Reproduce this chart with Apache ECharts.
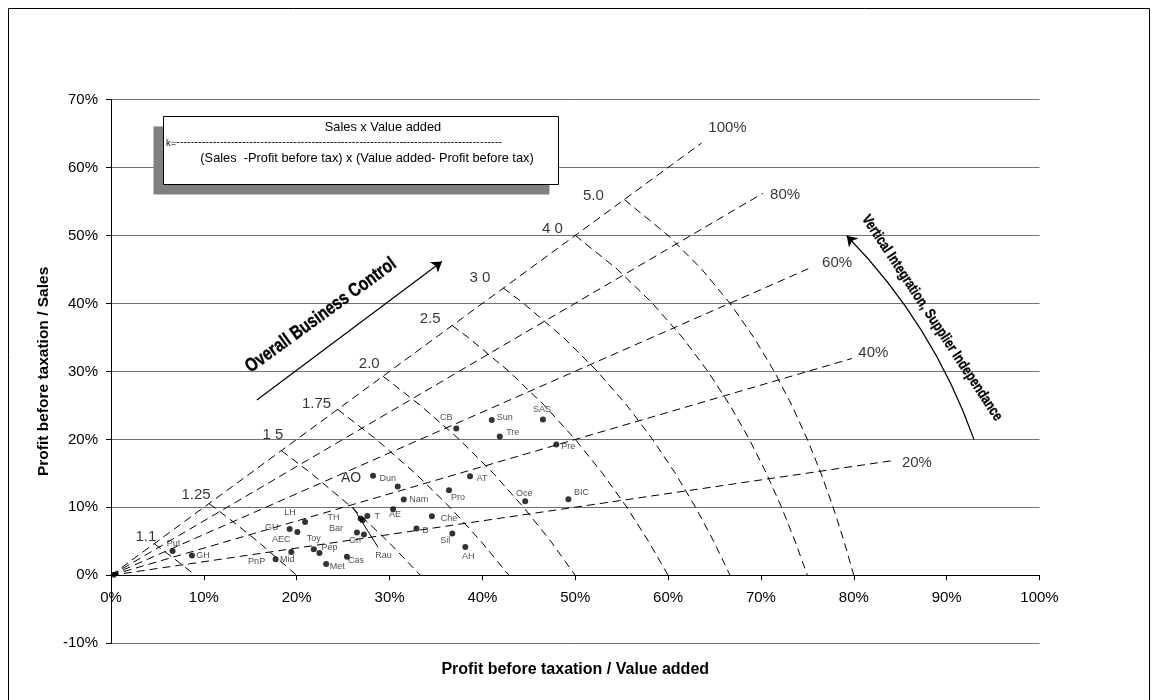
<!DOCTYPE html>
<html><head><meta charset="utf-8">
<script src="https://cdn.jsdelivr.net/npm/echarts/dist/echarts.min.js"></script>
<style>html,body{margin:0;padding:0;background:#fff}#c{width:1158px;height:700px}</style>
</head><body><div id="c"></div>
<script>
// ---- data (percent units) ----
const companies = ['Put','GH','PnP','Mid','GU','AEC','LH','Toy','Pep','Met','Cas','Bar','Gri','TH','Rau','T','AO','Dun','AE','Nam','B','Che','Sil','AH','Pro','AT','CB','Sun','Tre','SAS','Pre','Oce','BIC'];
const profitToValueAdded = [6.63,8.72,17.73,19.42,19.24,20.07,20.90,21.84,22.45,23.17,25.41,26.49,27.24,26.88,27.10,27.60,28.22,30.88,30.38,31.53,32.90,34.56,36.76,38.16,36.40,38.67,37.19,41.01,41.87,46.52,47.96,44.61,49.26];
const profitToSales = [3.58,2.90,2.36,3.44,6.83,6.39,7.86,3.83,3.29,1.67,2.75,6.29,5.99,8.35,8.10,8.74,14.64,13.07,9.73,11.15,6.88,8.69,6.14,4.17,12.53,14.59,21.61,22.84,20.43,22.94,19.26,10.90,11.20];
const originMarker = [[0.3, 0.1]];

const xTicks = [0,10,20,30,40,50,60,70,80,90,100];
const yTicks = [-10,0,10,20,30,40,50,60,70];

// Vertical integration rays (Value added / Sales)
const rayNames = ['100%','80%','60%','40%','20%'];
const rayEndX = [63.6,70.2,75.1,79.8,84.3];
const rayEndY = [63.6,56.2,45.1,31.9,16.9];
const rayLabelX = [66.4,72.6,78.2,82.1,86.8];
const rayLabelY = [65.9,55.9,46.0,32.7,16.6];

// k iso-curves
const kNames = ['1.1','1.25','1 5','1.75','2.0','2.5','3 0','4 0','5.0'];
const kLabelX = [3.75,9.16,17.44,22.13,27.81,34.38,39.73,47.54,51.95];
const kLabelY = [5.64,11.79,20.73,25.2,31.12,37.75,43.77,51.03,55.88];
const curveK1_1 = [[4.65,4.65],[6.76,2.5],[9.09,0]];
const curveK1_25 = [[10.56,10.56],[13.04,8],[15.79,5],[20,0]];
const curveK1_5 = [[18.35,18.35],[21.57,15],[25.93,10],[29.82,5],[33.33,0]];
const curveK1_75 = [[24.41,24.41],[28.57,20],[32.77,15],[36.51,10],[39.85,5],[42.86,0]];
const curveK2 = [[29.29,29.29],[33.33,25],[37.5,20],[41.18,15],[44.44,10],[47.37,5],[50,0]];
const curveK2_5 = [[36.75,36.75],[38.46,35],[42.86,30],[46.67,25],[50,20],[52.94,15],[55.56,10],[57.89,5],[60,0]];
const curveK3 = [[42.26,42.26],[44.44,40],[48.72,35],[52.38,30],[55.56,25],[58.33,20],[60.78,15],[62.96,10],[64.91,5],[66.67,0]];
const curveK4 = [[50,50],[54.55,45],[58.33,40],[61.54,35],[64.29,30],[66.67,25],[68.75,20],[70.59,15],[72.22,10],[73.68,5],[75,0]];
const curveK5 = [[55.28,55.28],[60,50],[63.64,45],[66.67,40],[69.23,35],[71.43,30],[73.33,25],[75,20],[76.47,15],[77.78,10],[78.95,5],[80,0]];
const kCurves = [curveK1_1,curveK1_25,curveK1_5,curveK1_75,curveK2,curveK2_5,curveK3,curveK4,curveK5];

// annotations
const rauLeader = [[26.05,10.02],[28.76,4.13]];
const controlArrow = [[15.71,25.79],[35.64,46.17]];
const integrationArrow = [[92.94,20.0],[79.24,49.96]];
const controlText = 'Overall Business Control';
const integrationText = 'Vertical Integration, Supplier Independance';

// ---- layout / style (not data) ----
const FF = "'Liberation Sans', Arial, sans-serif";
const labelOffset = {Put:[1,-7],GH:[11,0],PnP:[-19,2],Mid:[-4,8],GU:[-18,-1],AEC:[-16,8],LH:[-15,-9],Toy:[0,-11],Pep:[10,-5],Met:[11,3],Cas:[9,4],Bar:[-21,-4],Gri:[-9,6],TH:[-27,-1],Rau:[21,35],T:[10,1],AO:[-22,2],Dun:[-10,-8],AE:[2,5],Nam:[15,0],B:[9,2],Che:[17,2],Sil:[-7,7],AH:[3,10],Pro:[9,7],AT:[12,2],CB:[-10,-11],Sun:[13,-3],Tre:[13,-4],SAS:[-1,-10],Pre:[12,2],Oce:[-1,-8],BIC:[13,-7]};
const dash = {color:'#000', width:1, type:[8,5]};

const series = [];
rayNames.forEach((n,i)=>{
  series.push({type:'line', name:'ray '+n, data:[[0,0],[rayEndX[i],rayEndY[i]]], showSymbol:false, silent:true, lineStyle:dash, z:2});
});
kCurves.forEach((c,i)=>{
  series.push({type:'line', name:'k '+kNames[i], data:c, showSymbol:false, silent:true, lineStyle:dash, z:2});
});
series.push({type:'line', name:'leader', data:rauLeader, showSymbol:false, silent:true, lineStyle:{color:'#000', width:1}, z:3});
series.push({type:'lines', coordinateSystem:'cartesian2d', silent:true, z:3,
  symbol:['none','arrow'], symbolSize:10,
  lineStyle:{color:'#000', width:1.2, opacity:1, curveness:0},
  data:[{coords:controlArrow}]});
series.push({type:'lines', coordinateSystem:'cartesian2d', silent:true, z:3,
  symbol:['none','arrow'], symbolSize:10,
  lineStyle:{color:'#000', width:1.2, opacity:1, curveness:-0.11},
  data:[{coords:integrationArrow}]});
series.push({type:'scatter', name:'companies', symbol:'circle', symbolSize:6, silent:true, z:5,
  itemStyle:{color:'#000'},
  label:{show:true, position:'inside', formatter:'{b}', color:'#222', fontSize:9, fontFamily:FF},
  data: companies.map((n,i)=>({name:n, value:[profitToValueAdded[i], profitToSales[i]],
     label: Object.assign({offset:labelOffset[n]}, n==='AO'?{fontSize:14, color:'#000'}:{})}))});
series.push({type:'scatter', name:'origin', symbolSize:6, silent:true, z:5, itemStyle:{color:'#000'}, data:originMarker});
const textItems = [];
kNames.forEach((n,i)=>textItems.push({name:n, value:[kLabelX[i],kLabelY[i]]}));
rayNames.forEach((n,i)=>textItems.push({name:n, value:[rayLabelX[i],rayLabelY[i]]}));
series.push({type:'scatter', name:'texts', symbolSize:1, silent:true, z:6, itemStyle:{color:'rgba(0,0,0,0)'},
  label:{show:true, position:'inside', formatter:'{b}', color:'#000', fontSize:15, fontFamily:FF},
  data:textItems});

const hyphens = '-'.repeat(89);
const chart = echarts.init(document.getElementById('c'));
chart.setOption({
  animation:false,
  backgroundColor:'#fff',
  grid:{left:111, right:118.5, top:99.5, bottom:56.7, containLabel:false, outerBoundsMode:'none'},
  xAxis:{type:'value', min:xTicks[0], max:xTicks[xTicks.length-1], interval:10,
    offset:-68,
    axisLine:{onZero:false, lineStyle:{color:'#000', width:1}},
    axisTick:{show:true, length:5, lineStyle:{color:'#000'}},
    axisLabel:{formatter:'{value}%', color:'#000', fontSize:15, fontFamily:FF, margin:15, showMinLabel:true, showMaxLabel:true},
    splitLine:{show:false},
    name:'Profit before taxation / Value added', nameLocation:'middle', nameGap:86,
    nameTextStyle:{fontWeight:'bold', fontSize:16, color:'#000', fontFamily:FF}},
  yAxis:{type:'value', min:yTicks[0], max:yTicks[yTicks.length-1], interval:10,
    axisLine:{show:true, onZero:false, lineStyle:{color:'#000', width:1}},
    axisTick:{show:true, length:5, lineStyle:{color:'#000'}},
    axisLabel:{formatter:'{value}%', color:'#000', fontSize:15, fontFamily:FF, margin:13, showMinLabel:true, showMaxLabel:true},
    splitLine:{show:true, lineStyle:{color:'#707070', width:1}},
    name:'Profit before taxation / Sales', nameLocation:'middle', nameRotate:90, nameGap:58,
    nameTextStyle:{fontWeight:'bold', fontSize:15.5, color:'#000', fontFamily:FF}},
  graphic:[
    {type:'rect', shape:{x:8.5, y:8.5, width:1141, height:700}, style:{fill:'none', stroke:'#000', lineWidth:1}, silent:true, z:0},
    {type:'rect', shape:{x:153.5, y:126.5, width:396, height:68}, style:{fill:'#808080'}, silent:true, z:10},
    {type:'rect', shape:{x:163.5, y:116.5, width:395, height:68}, style:{fill:'#fff', stroke:'#000', lineWidth:1}, silent:true, z:11},
    {type:'text', x:383, y:127, style:{text:'Sales x Value added', fill:'#000', font:'12.8px '+FF, textAlign:'center', textVerticalAlign:'middle'}, silent:true, z:12},
    {type:'text', x:166, y:143, style:{text:'k=', fill:'#000', font:'9.5px '+FF, textAlign:'left', textVerticalAlign:'middle'}, silent:true, z:12},
    {type:'text', x:176, y:142, style:{text:hyphens, fill:'#000', font:'11px '+FF, textAlign:'left', textVerticalAlign:'middle'}, silent:true, z:12},
    {type:'text', x:367, y:158.5, style:{text:'(Sales  -Profit before tax) x (Value added- Profit before tax)', fill:'#000', font:'12.8px '+FF, textAlign:'center', textVerticalAlign:'middle'}, silent:true, z:12},
    {type:'text', x:321, y:315.5, rotation:36*Math.PI/180, scaleX:0.8, style:{text:controlText, fill:'#000', stroke:'#000', lineWidth:0.4, font:'bold 19px '+FF, textAlign:'center', textVerticalAlign:'middle'}, silent:true, z:12},
    {type:'text', x:932, y:318, rotation:-56.6*Math.PI/180, scaleX:0.8, style:{text:integrationText, fill:'#000', stroke:'#000', lineWidth:0.3, font:'bold 14.8px '+FF, textAlign:'center', textVerticalAlign:'middle'}, silent:true, z:12}
  ],
  series: series
});
</script></body></html>
